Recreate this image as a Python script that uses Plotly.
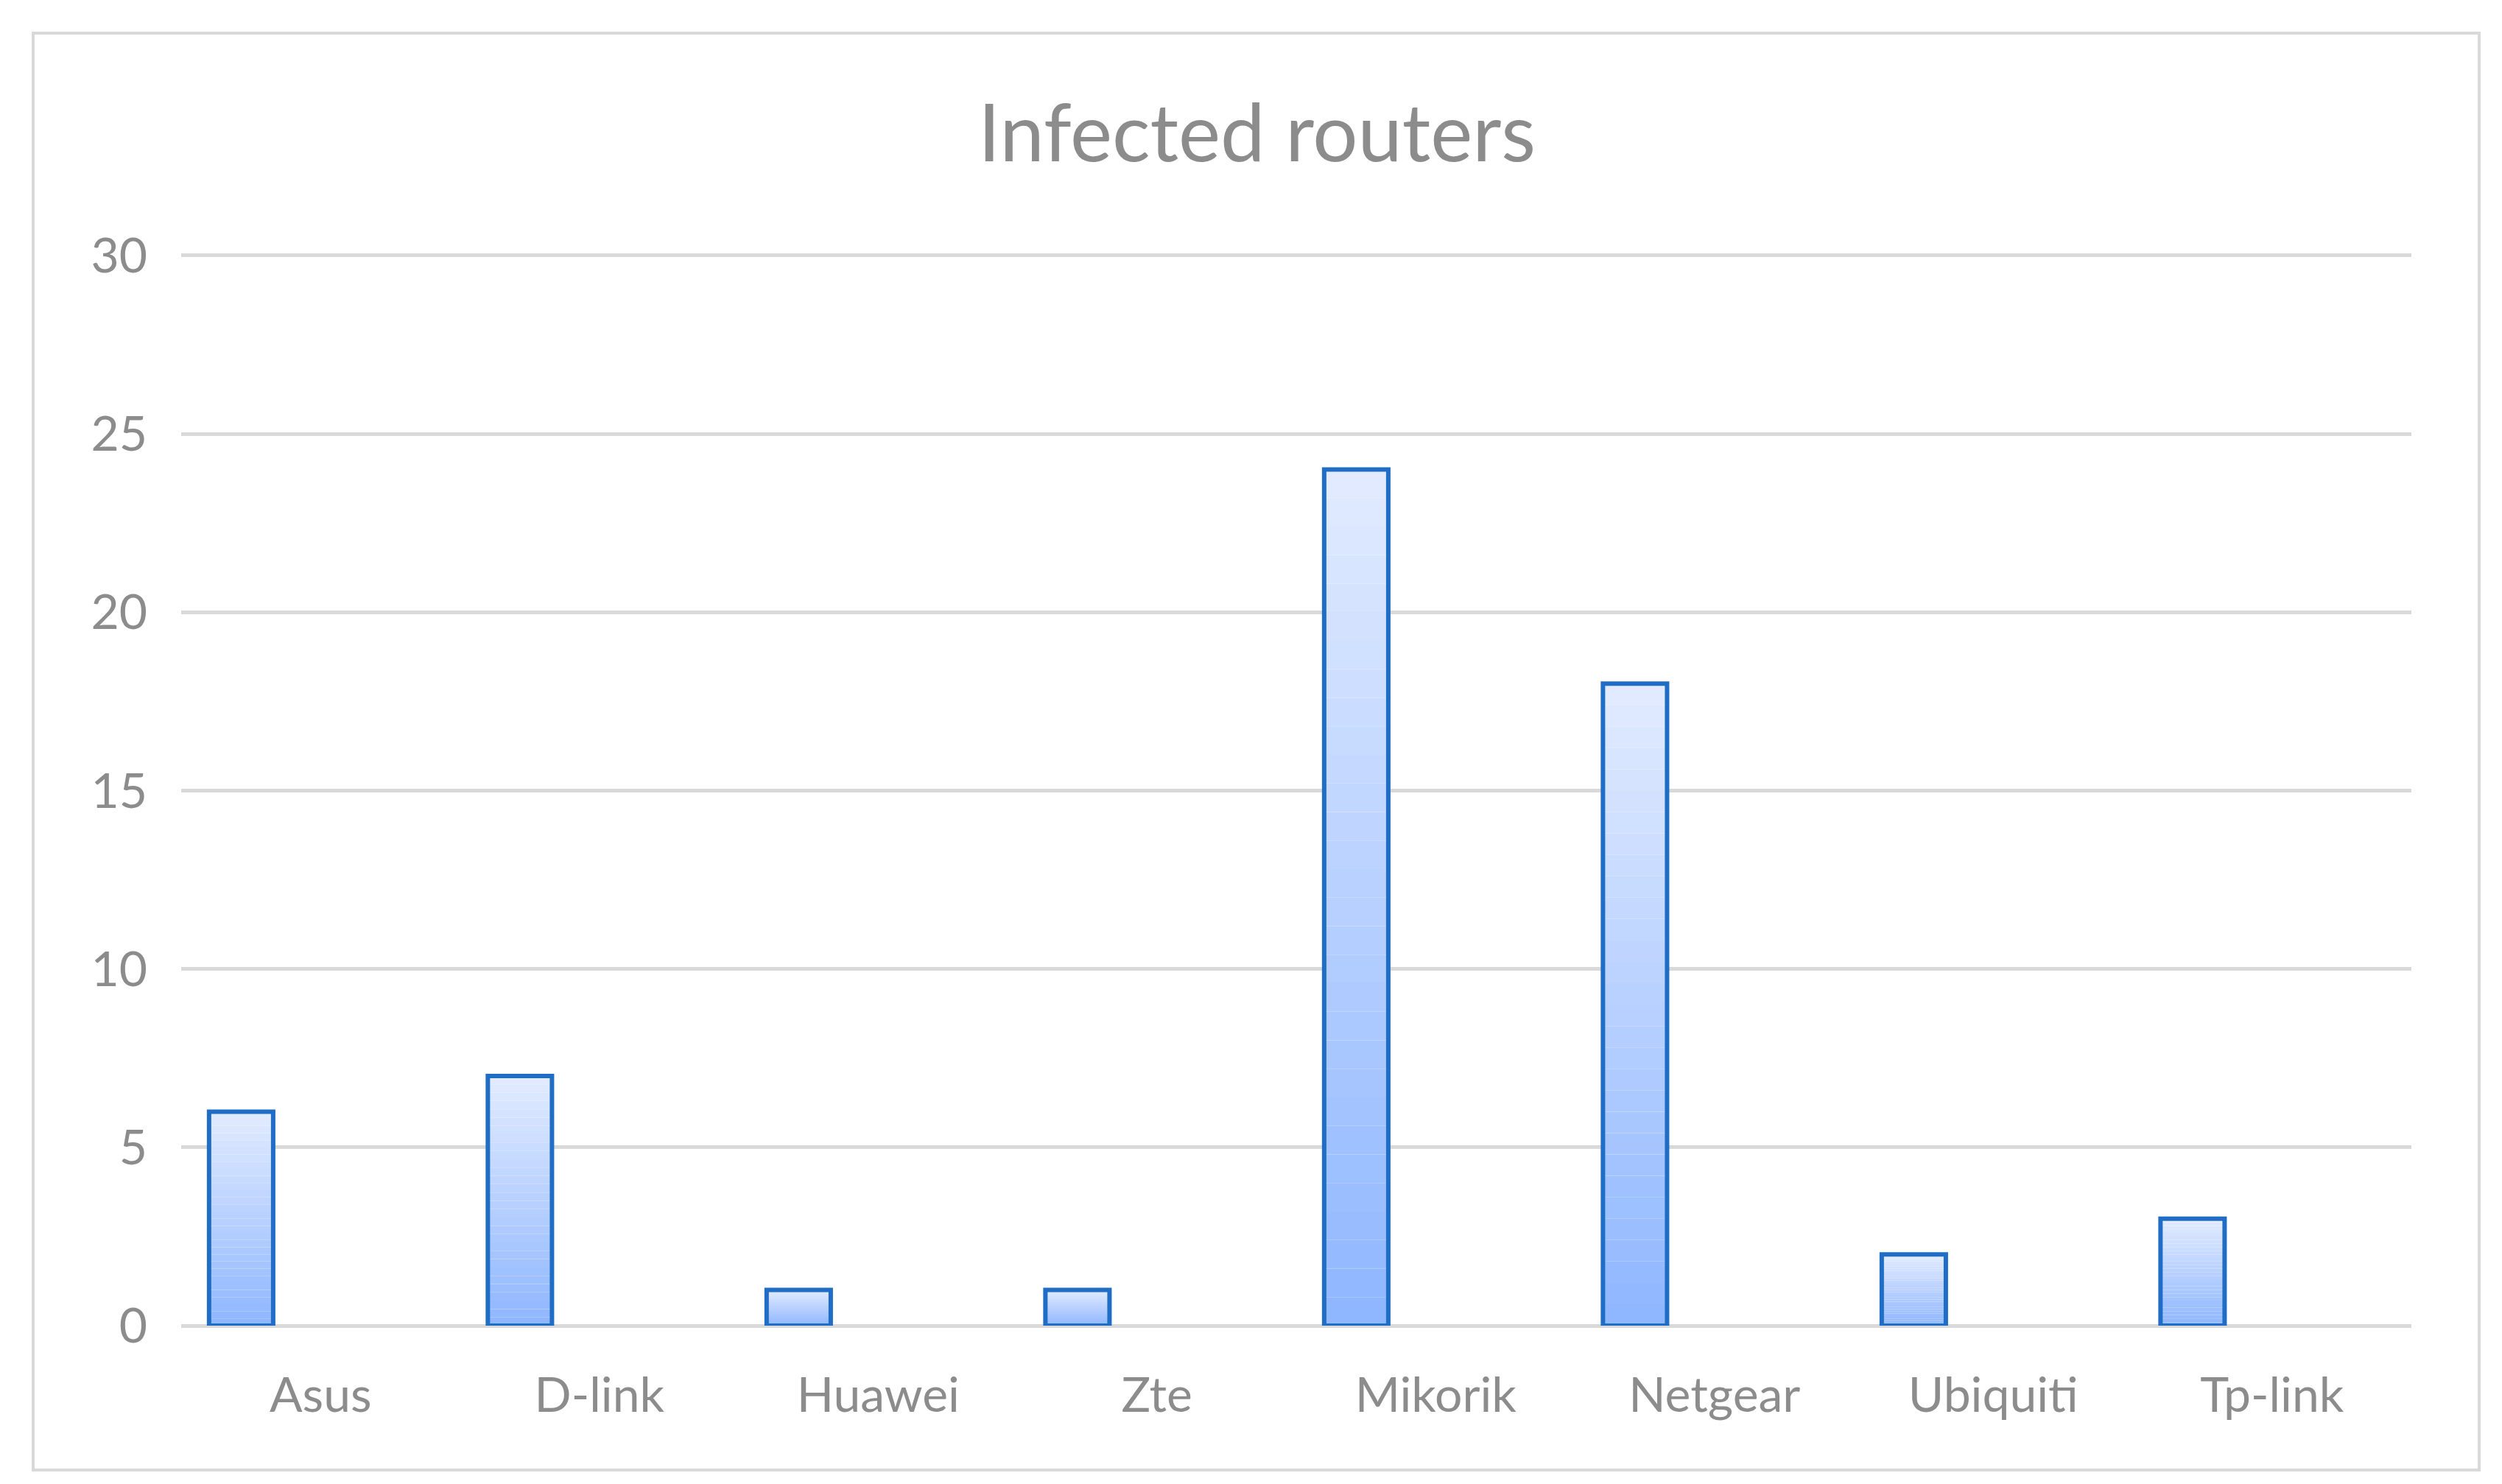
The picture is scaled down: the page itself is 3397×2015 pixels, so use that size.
import plotly.graph_objects as go

categories = ["Asus", "D-link", "Huawei", "Zte", "Mikorik", "Netgear", "Ubiquiti", "Tp-link"]
values = [6, 7, 1, 1, 24, 18, 2, 3]
y_ticks = [0, 5, 10, 15, 20, 25, 30]

N = 30
top_rgb = (226, 235, 255)
bot_rgb = (142, 182, 255)
BW, OFF = 0.23, -0.40

fig = go.Figure()
for i in range(N):
    t = (i + 0.5) / N
    c = tuple(round(bot_rgb[k] + (top_rgb[k] - bot_rgb[k]) * t) for k in range(3))
    fig.add_trace(go.Bar(
        x=categories, y=[v / N for v in values], base=[v * i / N for v in values],
        width=BW, offset=OFF, marker=dict(color="rgb(%d,%d,%d)" % c, line=dict(width=0)),
        hoverinfo="skip", showlegend=False))
fig.add_trace(go.Bar(
    x=categories, y=values, width=BW, offset=OFF,
    marker=dict(color="rgba(0,0,0,0)", line=dict(color="#1f6dc4", width=6)),
    showlegend=False))

fig.update_layout(
    width=3397, height=2015, barmode="overlay",
    margin=dict(l=238, r=131, t=336, b=223),
    paper_bgcolor="white", plot_bgcolor="white",
    font=dict(family="Lato, Open Sans, sans-serif", color="#8c8c8c", size=66),
    title=dict(text="Infected routers", x=0.5, xanchor="center", y=0.914, yanchor="middle",
               font=dict(size=108, color="#8c8c8c")),
    xaxis=dict(showgrid=False, showline=False, ticks="", ticklabelstandoff=50,
               tickfont=dict(size=66, color="#8c8c8c")),
    yaxis=dict(range=[0, 30.06], tickvals=y_ticks, showgrid=True, gridcolor="#d9d9d9", gridwidth=5,
               zeroline=True, zerolinecolor="#d9d9d9", zerolinewidth=5, showline=False,
               ticks="", ticklabelstandoff=45, tickfont=dict(size=66, color="#8c8c8c")),
    shapes=[dict(type="rect", xref="paper", yref="paper",
                 x0=(37 - 238) / 3028, x1=(3358 - 238) / 3028,
                 y0=(2015 - 1988 - 223) / 1456, y1=(2015 - 37 - 223) / 1456,
                 line=dict(color="#d9d9d9", width=4), layer="below")],
)
fig.write_html("out.html")
